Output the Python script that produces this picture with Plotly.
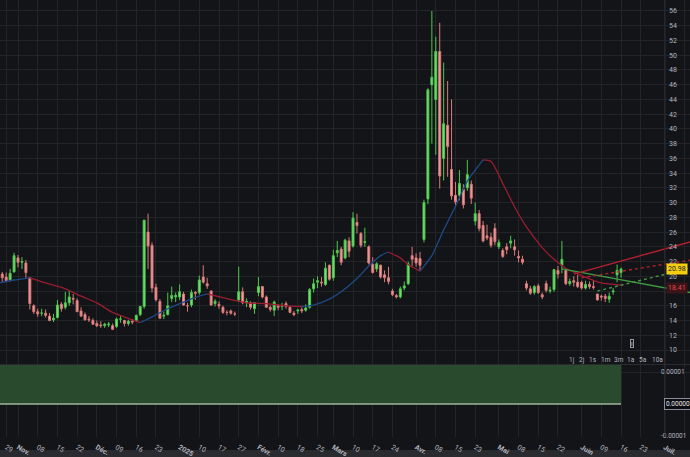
import plotly.graph_objects as go

# ---------------- data ----------------
dates = ["2024-10-25","2024-10-28","2024-10-29","2024-10-30","2024-10-31",
 "2024-11-01","2024-11-04","2024-11-05","2024-11-06","2024-11-07","2024-11-08",
 "2024-11-11","2024-11-12","2024-11-13","2024-11-14","2024-11-15",
 "2024-11-18","2024-11-19","2024-11-20","2024-11-21","2024-11-22",
 "2024-11-25","2024-11-26","2024-11-27","2024-11-29",
 "2024-12-02","2024-12-03","2024-12-04","2024-12-05","2024-12-06",
 "2024-12-09","2024-12-10","2024-12-11","2024-12-12","2024-12-13",
 "2024-12-16","2024-12-17","2024-12-18","2024-12-19","2024-12-20",
 "2024-12-23","2024-12-24","2024-12-26","2024-12-27","2024-12-30","2024-12-31",
 "2025-01-02","2025-01-03","2025-01-06","2025-01-07","2025-01-08","2025-01-10",
 "2025-01-13","2025-01-14","2025-01-15","2025-01-16","2025-01-17",
 "2025-01-21","2025-01-22","2025-01-23","2025-01-24",
 "2025-01-27","2025-01-28","2025-01-29","2025-01-30","2025-01-31",
 "2025-02-03","2025-02-04","2025-02-05","2025-02-06","2025-02-07",
 "2025-02-10","2025-02-11","2025-02-12","2025-02-13","2025-02-14",
 "2025-02-18","2025-02-19","2025-02-20","2025-02-21",
 "2025-02-24","2025-02-25","2025-02-26","2025-02-27","2025-02-28",
 "2025-03-03","2025-03-04","2025-03-05","2025-03-06","2025-03-07",
 "2025-03-10","2025-03-11","2025-03-12","2025-03-13","2025-03-14",
 "2025-03-17","2025-03-18","2025-03-19","2025-03-20","2025-03-21",
 "2025-03-24","2025-03-25","2025-03-26","2025-03-27","2025-03-28","2025-03-31",
 "2025-04-01","2025-04-02","2025-04-03","2025-04-04",
 "2025-04-07","2025-04-08","2025-04-09","2025-04-10","2025-04-11",
 "2025-04-14","2025-04-15","2025-04-16","2025-04-17",
 "2025-04-21","2025-04-22","2025-04-23","2025-04-24","2025-04-25",
 "2025-04-28","2025-04-29","2025-04-30","2025-05-01","2025-05-02",
 "2025-05-05","2025-05-06","2025-05-07","2025-05-08","2025-05-09",
 "2025-05-12","2025-05-13","2025-05-14","2025-05-15","2025-05-16",
 "2025-05-19","2025-05-20","2025-05-21","2025-05-22","2025-05-23",
 "2025-05-27","2025-05-28","2025-05-29","2025-05-30",
 "2025-06-02","2025-06-03","2025-06-04","2025-06-05","2025-06-06",
 "2025-06-09","2025-06-10","2025-06-11","2025-06-12","2025-06-13","2025-06-16"]

opens = [19.2,20.3,19.9,19.5,20.6,
 22.5,21.9,21.8,19.8,16.0,15.2,
 15.0,15.0,14.6,14.1,14.4,
 16.2,15.8,16.4,17.0,16.7,
 15.3,14.8,14.2,14.0,
 13.6,13.4,13.3,13.4,13.3,
 13.2,14.2,14.0,13.6,13.9,
 14.0,14.8,15.9,26.0,24.2,
 18.5,16.6,14.6,14.8,17.0,17.2,
 17.2,17.6,16.0,16.1,17.8,17.8,
 19.9,19.0,18.0,16.3,16.2,
 15.8,15.1,15.3,14.9,
 16.8,17.9,16.4,16.4,15.6,
 17.8,18.6,17.2,15.8,15.4,
 16.0,15.9,16.3,15.8,15.0,
 15.3,15.5,15.4,15.8,
 18.3,19.2,19.2,18.9,21.5,
 19.8,23.2,23.7,22.5,24.8,
 24.1,27.3,25.8,24.6,24.0,
 21.6,21.0,21.5,20.2,19.8,
 18.0,17.4,17.2,18.4,19.0,22.8,
 22.5,22.4,25.0,30.5,
 46.0,44.0,50.5,36.0,40.5,
 34.5,31.0,31.0,31.8,
 32.0,32.5,27.5,28.5,26.9,
 25.5,25.3,26.5,24.0,23.5,
 24.0,24.5,24.0,22.7,22.3,
 19.0,18.3,17.8,18.7,17.5,
 19.0,18.0,18.2,20.8,21.5,
 20.8,19.0,19.4,19.2,
 19.2,18.4,18.9,18.6,17.6,
 17.3,17.3,16.9,17.9,20.2,20.5]

highs = [20.4,20.6,20.5,21.0,23.2,
 22.9,22.6,22.2,19.9,16.2,15.6,
 15.6,15.5,15.0,14.9,16.8,
 16.5,17.9,18.0,17.6,17.0,
 15.8,15.1,14.6,14.3,
 14.0,13.9,13.7,13.8,13.6,
 14.4,14.6,14.1,14.1,14.2,
 14.8,16.0,27.7,28.5,24.6,
 19.0,16.9,15.2,17.8,18.6,17.8,
 18.9,17.9,16.4,18.2,18.0,20.1,
 21.5,19.8,18.1,16.9,16.6,
 16.0,15.4,15.5,15.2,
 21.3,18.5,17.0,16.6,16.5,
 19.9,18.7,17.4,16.0,16.7,
 16.2,16.4,16.6,16.0,15.3,
 15.6,15.8,16.2,18.4,
 19.7,20.0,19.9,21.9,21.6,
 23.6,24.8,24.0,25.1,25.3,
 28.7,28.5,26.0,26.6,24.2,
 22.6,21.9,21.6,20.8,21.3,
 18.3,17.6,18.6,19.3,22.0,24.0,
 23.1,23.3,30.4,45.5,
 56.0,52.5,54.4,49.0,46.5,
 44.0,32.8,34.4,32.5,
 35.8,33.0,30.0,29.0,27.5,
 27.0,25.9,27.2,25.0,23.8,
 24.5,25.5,25.0,23.5,22.8,
 19.4,18.7,18.8,19.0,17.8,
 19.4,18.6,21.0,21.4,24.8,
 21.0,19.7,20.0,20.2,
 19.4,19.4,19.3,19.5,17.6,
 17.5,17.6,17.8,18.4,21.6,21.2]

lows = [18.7,19.2,19.2,19.3,20.5,
 21.2,21.0,19.8,15.5,14.9,14.5,
 14.6,14.4,13.9,13.8,14.3,
 15.2,15.5,16.0,16.2,15.2,
 14.5,14.0,13.8,13.4,
 13.1,13.0,13.0,13.1,12.7,
 13.0,13.7,13.2,13.3,13.5,
 13.8,14.6,15.6,21.0,17.8,
 16.6,14.3,14.2,14.7,16.5,16.5,
 16.8,16.0,15.2,15.8,16.8,17.5,
 19.0,18.3,16.0,15.9,15.6,
 14.9,14.7,14.8,14.6,
 16.5,16.2,15.8,15.5,14.9,
 17.3,17.0,15.8,15.2,14.6,
 15.4,15.4,15.6,15.0,14.6,
 14.9,15.0,15.2,15.6,
 17.8,18.4,18.6,18.7,19.4,
 19.4,22.6,21.5,22.3,22.6,
 23.9,25.8,23.9,24.0,21.6,
 20.4,20.6,19.7,19.2,18.9,
 17.3,17.0,17.0,18.1,18.8,21.4,
 21.3,20.7,24.6,29.8,
 38.0,36.5,31.9,33.0,33.5,
 30.4,29.4,30.3,29.2,
 31.6,29.8,26.9,26.1,24.6,
 24.9,23.9,24.2,23.7,22.5,
 23.0,23.8,22.8,21.9,21.6,
 18.1,17.5,17.5,17.6,16.9,
 17.8,17.7,17.9,19.7,20.4,
 18.8,18.7,18.6,18.4,
 18.2,18.2,18.3,18.2,16.7,
 16.7,16.5,16.4,17.5,19.2,19.8]

closes = [20.3,19.8,19.4,20.4,22.8,
 21.9,22.0,20.5,16.3,15.2,14.9,
 15.0,14.7,14.0,14.3,16.1,
 15.6,16.4,17.2,16.9,15.2,
 14.6,14.1,14.1,13.5,
 13.3,13.3,13.5,13.5,12.8,
 14.2,14.2,13.6,13.9,13.8,
 14.7,15.9,27.6,24.1,18.4,
 16.8,14.3,14.7,16.0,17.4,17.4,
 17.9,16.1,16.0,17.8,17.7,19.5,
 19.2,18.7,16.1,16.6,16.0,
 15.1,15.1,15.0,14.9,
 17.9,16.4,16.6,15.8,16.4,
 18.6,17.2,15.8,15.5,16.5,
 15.8,16.0,15.9,15.1,14.8,
 15.4,15.3,15.7,18.2,
 19.0,19.4,19.1,21.1,19.6,
 22.8,23.5,21.9,24.9,23.4,
 27.9,26.9,24.2,24.7,21.8,
 20.5,21.7,19.9,19.8,19.3,
 17.5,17.2,18.3,18.7,21.7,22.3,
 21.8,21.5,30.0,45.3,
 47.0,50.5,33.6,40.7,37.6,
 30.9,30.1,32.6,29.7,
 33.8,30.6,28.5,26.5,24.8,
 25.2,24.2,24.7,24.6,22.7,
 23.6,24.8,23.6,22.5,21.9,
 18.4,17.7,18.6,17.8,17.2,
 18.1,18.1,20.9,20.3,22.3,
 19.0,19.3,19.2,18.6,
 18.4,18.9,18.6,18.5,16.8,
 17.2,17.0,17.3,18.0,20.8,20.98]

# moving average (read at key dates)
ma_dates = ["2024-10-25","2024-10-31","2024-11-06","2024-11-12","2024-11-19","2024-11-25",
 "2024-12-02","2024-12-06","2024-12-12","2024-12-17","2024-12-20","2024-12-27",
 "2025-01-03","2025-01-10","2025-01-14","2025-01-21","2025-01-29","2025-02-05",
 "2025-02-12","2025-02-19","2025-02-24","2025-02-28","2025-03-05","2025-03-11",
 "2025-03-14","2025-03-19","2025-03-21","2025-03-26","2025-03-28","2025-04-02",
 "2025-04-07","2025-04-10","2025-04-15","2025-04-21","2025-04-25","2025-04-29",
 "2025-05-02","2025-05-07","2025-05-12","2025-05-16","2025-05-21","2025-05-27",
 "2025-06-02","2025-06-09","2025-06-16"]
ma_values = [19.1,19.5,19.8,19.1,18.3,17.3,
 16.4,15.1,14.3,13.7,14.5,15.6,
 16.5,17.3,17.6,17.1,16.4,16.3,
 16.0,15.9,16.1,16.9,17.9,19.7,
 21.4,22.8,23.3,22.5,21.6,20.7,
 22.8,26.3,29.5,32.9,35.8,35.6,
 32.6,29.4,26.7,23.9,22.3,21.1,
 20.1,19.1,18.8]

# trend-line drawings: (start date, start value, end date, end value)
green_solid = ("2025-05-23", 21.0, "2025-07-10", 17.8)
red_solid = ("2025-05-29", 20.3, "2025-07-10", 24.65)
red_dotted = ("2025-06-02", 19.8, "2025-07-10", 22.2)
green_dotted = ("2025-06-06", 18.0, "2025-07-10", 21.1)

# lower indicator pane
osc_dates = ["2024-10-25", "2025-06-16"]
osc_values = [0.000015, 0.000015]

last_price = 20.98
line_label = 18.41

holidays = ["2024-11-28","2024-12-25","2025-01-01","2025-01-09","2025-01-20",
            "2025-02-17","2025-04-18","2025-05-26"]

tick_dates = ["2024-10-29","2024-11-01","2024-11-08","2024-11-15","2024-11-22","2024-12-02",
 "2024-12-09","2024-12-16","2024-12-23","2025-01-02","2025-01-10","2025-01-17","2025-01-27",
 "2025-02-03","2025-02-10","2025-02-18","2025-02-25","2025-03-03","2025-03-10","2025-03-17",
 "2025-03-24","2025-04-01","2025-04-08","2025-04-15","2025-04-23","2025-05-01","2025-05-08",
 "2025-05-15","2025-05-22","2025-06-02","2025-06-09","2025-06-16","2025-06-23","2025-07-01",
 "2025-07-08"]
tick_labels = ["29","Nov.","08","15","22","Déc.","09","16","23","2025","10","17","27",
 "Févr.","10","18","25","Mars","10","17","24","Avr.","08","15","23","Mai","08","15","22",
 "Juin","09","16","23","Juil.","08"]
month_labels = {"Nov.","Déc.","2025","Févr.","Mars","Avr.","Mai","Juin","Juil."}

price_ticks = list(range(10, 57, 2))
range_buttons = ["1j","2j","1s","1m","3m","1a","5a","10a"]

# ---------------- styling ----------------
BG = "#131418"
GRID = "#232428"
TXT = "#b2b5be"
FONT = "Roboto"
W, H = 690, 457
MB = 20
PH = H - MB

def noon(d):
    return d + " 12:00"

def pxx(px):
    return px / W

def pxy(py):
    return (PH - py) / PH

fig = go.Figure()

fig.add_trace(go.Candlestick(
    x=[noon(d) for d in dates], open=opens, high=highs, low=lows, close=closes,
    increasing=dict(line=dict(color="#4cc94c", width=1), fillcolor="#7de07d"),
    decreasing=dict(line=dict(color="#d97a7a", width=1), fillcolor="#f4a0a0"),
    whiskerwidth=0, xaxis="x", yaxis="y", showlegend=False, hoverinfo="skip"))

# moving average coloured by direction
UP, DOWN = "#1d4a86", "#9a1d30"
segs = []
cur = None
for i in range(len(ma_dates) - 1):
    c = UP if ma_values[i + 1] >= ma_values[i] else DOWN
    if c != cur:
        segs.append([c, [noon(ma_dates[i])], [ma_values[i]]])
        cur = c
    segs[-1][1].append(noon(ma_dates[i + 1]))
    segs[-1][2].append(ma_values[i + 1])
for c, xs, ys in segs:
    fig.add_trace(go.Scatter(x=xs, y=ys, mode="lines", line=dict(color=c, width=1.3, shape="spline", smoothing=0.6),
                             xaxis="x", yaxis="y", showlegend=False, hoverinfo="skip"))

def tline(t, color, dash):
    d0, v0, d1, v1 = t
    fig.add_trace(go.Scatter(x=[noon(d0), d1 + " 00:00"], y=[v0, v1], mode="lines",
                             line=dict(color=color, width=1.4, dash=dash),
                             xaxis="x", yaxis="y", showlegend=False, hoverinfo="skip", cliponaxis=False))

tline(green_solid, "#3f9a42", "solid")
tline(red_solid, "#b3202f", "solid")
tline(red_dotted, "#b3202f", "dot")
tline(green_dotted, "#3f9a42", "dot")

# lower pane
fig.add_trace(go.Scatter(x=[noon(d) for d in osc_dates], y=osc_values, mode="lines", fill="tozeroy",
                         fillcolor="#2a4a2d", line=dict(width=0, color="#2a4a2d"),
                         xaxis="x2", yaxis="y2", showlegend=False, hoverinfo="skip"))
fig.add_trace(go.Scatter(x=[noon(d) for d in osc_dates], y=[0, 0], mode="lines",
                         line=dict(width=1.5, color="#9fb59f"),
                         xaxis="x2", yaxis="y2", showlegend=False, hoverinfo="skip"))

rbreaks = [dict(bounds=["sat", "mon"]), dict(values=holidays)]
xrange = ["2024-10-25 22:20", "2025-07-10 00:00"]
ticktext = [("<b>%s</b>" % t) if t in month_labels else t for t in tick_labels]

xcommon = dict(type="date", range=xrange, rangebreaks=rbreaks, tickvals=[noon(d) for d in tick_dates],
               showgrid=True, gridcolor=GRID, gridwidth=1, zeroline=False, showline=False,
               ticks="", fixedrange=True, rangeslider=dict(visible=False))

# price-axis labels: the boxed labels hide the "18" tick
price_text = ["" if v == 18 else str(v) for v in price_ticks]

fig.update_layout(
    width=W, height=H, margin=dict(l=0, r=0, t=0, b=MB, autoexpand=False),
    paper_bgcolor=BG, plot_bgcolor=BG,
    font=dict(family=FONT, color=TXT, size=7),
    xaxis=dict(domain=[0, 1], anchor="y", showticklabels=False, **xcommon),
    xaxis2=dict(domain=[0, 1], anchor="y2", matches="x", showticklabels=True,
                ticktext=ticktext, tickfont=dict(size=7, color=TXT, family=FONT),
                ticklabelstandoff=4, **xcommon),
    yaxis=dict(domain=[pxy(364), 1], range=[10 - 14 / 7.37, 10 + 350 / 7.37],
               anchor="free", position=665 / W, side="right",
               tickvals=price_ticks, ticktext=price_text, ticks="", showgrid=True, gridcolor=GRID,
               zeroline=False, showline=False, tickfont=dict(size=7, color=TXT),
               ticklabelstandoff=3, fixedrange=True),
    yaxis2=dict(domain=[0, pxy(365)], range=[-(437 - 404) / 32 * 1e-5, (404 - 365) / 32 * 1e-5],
                anchor="free", position=665 / W, side="right",
                tickvals=[1e-5, -1e-5], ticktext=["0.00001", "-0.00001"],
                ticks="", showgrid=True, gridcolor=GRID, zeroline=False, showline=False,
                tickfont=dict(size=6.5, color=TXT), ticklabelstandoff=-5, fixedrange=True),
)

shapes = [
    dict(type="line", xref="paper", yref="paper", x0=pxx(665), x1=pxx(665), y0=0, y1=1,
         line=dict(color="#2a2b30", width=1)),
    dict(type="line", xref="paper", yref="paper", x0=0, x1=1, y0=pxy(364.5), y1=pxy(364.5),
         line=dict(color="#2a2b30", width=1)),
    dict(type="rect", xref="paper", yref="paper", x0=0, x1=1, y0=pxy(450), y1=pxy(458),
         fillcolor="#2a2b2f", line=dict(width=0), layer="below"),
]
fig.update_layout(shapes=shapes)

ann = []
btn_px = [572, 582, 593, 606, 619, 631, 643, 657]
for t, px in zip(range_buttons, btn_px):
    ann.append(dict(text=t, x=pxx(px), y=pxy(360), xref="paper", yref="paper", showarrow=False,
                    font=dict(size=6.5, color=TXT, family=FONT), xanchor="center", yanchor="middle"))
ann.append(dict(text="I", x=pxx(632), y=pxy(343), xref="paper", yref="paper", showarrow=False,
                font=dict(size=6, color="#d1d4dc", family=FONT), bordercolor="#9598a1", borderwidth=1,
                borderpad=0, bgcolor=BG, xanchor="center", yanchor="middle"))
ann.append(dict(text="20.98", x=pxx(666), y=last_price, xref="paper", yref="y", showarrow=False,
                font=dict(size=7, color="#131722", family=FONT), bgcolor="#f5cf0f", borderpad=1,
                xanchor="left", yanchor="middle"))
ann.append(dict(text="18.41", x=pxx(666), y=line_label, xref="paper", yref="y", showarrow=False,
                font=dict(size=7, color="#e5484d", family=FONT), bgcolor="#3a1418", borderpad=1,
                xanchor="left", yanchor="middle"))
ann.append(dict(text="0.00000", x=pxx(664), y=0, xref="paper", yref="y2", showarrow=False,
                font=dict(size=6.5, color="#e8e8e8", family=FONT), bgcolor="#0c0d10", bordercolor="#8a8d95",
                borderwidth=1, borderpad=1, xanchor="left", yanchor="middle"))
fig.update_layout(annotations=ann)

fig.write_html("out.html", config={"displayModeBar": False},
               post_script="document.body.style.margin='0';document.body.style.padding='0';")
